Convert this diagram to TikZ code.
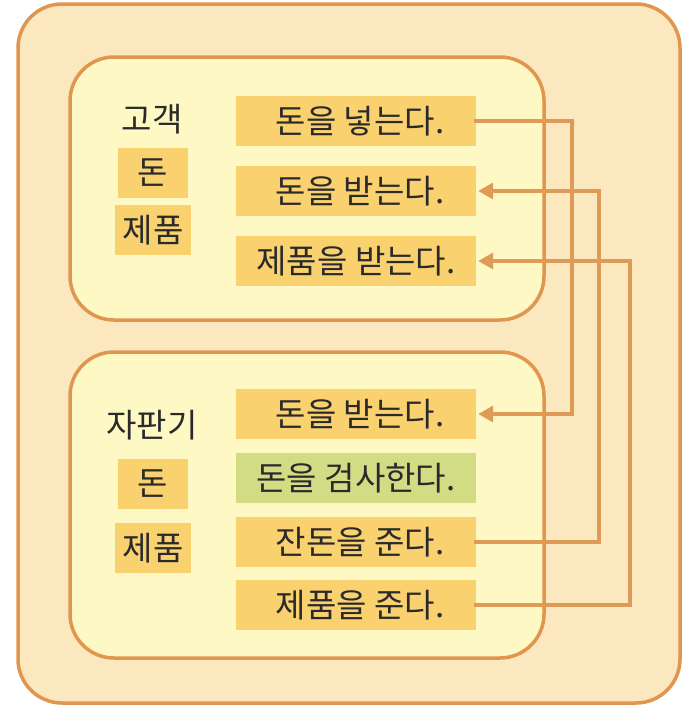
\documentclass[tikz,border=0pt]{standalone}
\usepackage{fontspec}
\setmainfont{Noto Sans CJK KR}
\usetikzlibrary{arrows.meta}
\definecolor{edge}{HTML}{E0964F}
\definecolor{outerfill}{HTML}{FBE8BF}
\definecolor{innerfill}{HTML}{FEF9C4}
\definecolor{actfill}{HTML}{F9D16E}
\definecolor{checkfill}{HTML}{D2DC84}
\definecolor{linkcol}{HTML}{DE9B57}
\definecolor{txt}{HTML}{2A2A2A}
\begin{document}
\begin{tikzpicture}[x=1pt,y=-1pt,
  frame/.style={draw=edge,line width=3.5pt,rounded corners=44pt},
  act/.style={fill=actfill,inner sep=0pt,minimum width=240pt,minimum height=50pt,font=\fontsize{33}{36}\selectfont,text=txt},
  chk/.style={act,fill=checkfill},
  obj/.style={fill=actfill,inner sep=0pt,minimum height=50pt,font=\fontsize{33}{36}\selectfont,text=txt},
  who/.style={font=\fontsize{33}{36}\selectfont,text=txt},
  link/.style={draw=linkcol,line width=3.5pt},
  tip/.style={-{Triangle[length=15pt,width=16pt]}}]
\useasboundingbox (0,0) rectangle (682,707);
\fill[white] (0,0) rectangle (682,707);
\path[frame,fill=outerfill] (18,4) rectangle (680,703);
\path[frame,fill=innerfill] (70,57) rectangle (544,320);
\path[frame,fill=innerfill] (70,352) rectangle (544,658);
% customer
\node[who] (c) at (152,119) {고객};
\node[obj,minimum width=70pt] (cm) at (153,172.5) {돈};
\node[obj,minimum width=76pt] (cp) at (153,230) {제품};
\node[act] (a1) at (356,121) {\hspace*{8pt}돈을 넣는다.};
\node[act] (a2) at (356,191) {\hspace*{8pt}돈을 받는다.};
\node[act] (a3) at (356,261) {제품을 받는다.};
% vending machine
\node[who] (v) at (152,425) {자판기};
\node[obj,minimum width=70pt] (vm) at (153,484) {돈};
\node[obj,minimum width=76pt] (vp) at (153,548) {제품};
\node[act] (b1) at (356,414) {\hspace*{8pt}돈을 받는다.};
\node[chk] (b2) at (356,478) {돈을 검사한다.};
\node[act] (b3) at (356,542) {\hspace*{8pt}잔돈을 준다.};
\node[act] (b4) at (356,605) {\hspace*{8pt}제품을 준다.};
% connectors
\draw[link,tip] ([xshift=-2pt]a1.east) -| (572,300) |- ([xshift=2pt]b1.east);
\draw[link,tip] ([xshift=-2pt]b3.east) -| (599,300) |- ([xshift=2pt]a2.east);
\draw[link,tip] ([xshift=-2pt]b4.east) -| (630,300) |- ([xshift=2pt]a3.east);
\end{tikzpicture}
\end{document}
